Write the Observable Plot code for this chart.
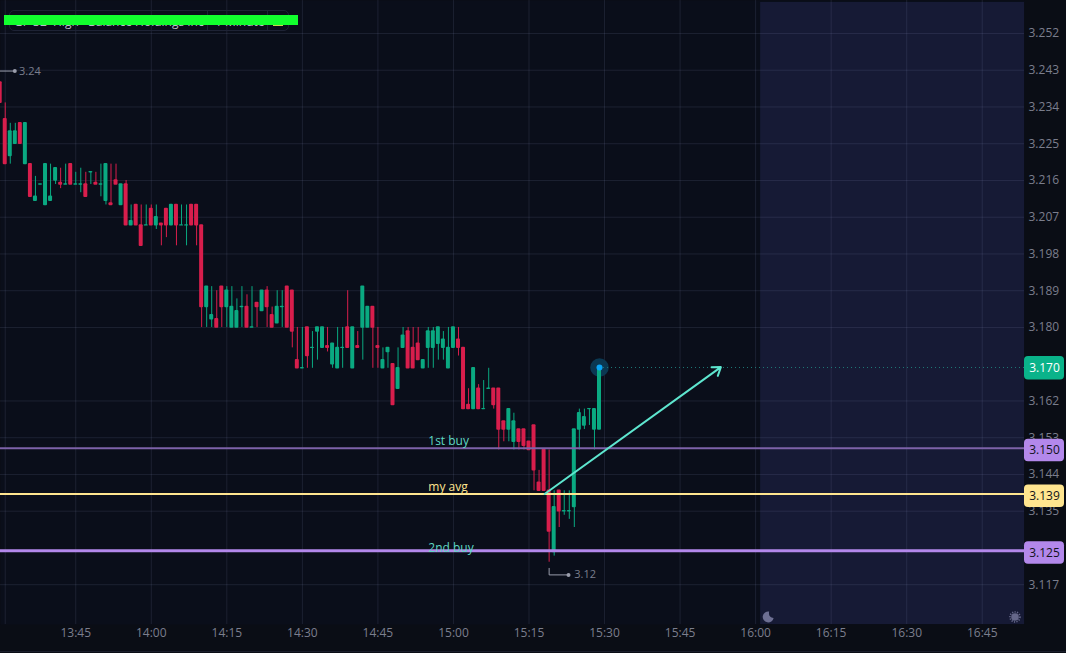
<!DOCTYPE html>
<html><head><meta charset="utf-8">
<script src="https://cdn.jsdelivr.net/npm/d3@7"></script>
<script src="https://cdn.jsdelivr.net/npm/@observablehq/plot@0.6"></script>
<style>
html,body{margin:0;padding:0;background:#0a0d15;overflow:hidden}
#wrap{position:relative;width:1066px;height:653px;font-family:"Open Sans",sans-serif}
#wrap svg{display:block}
#legend{position:absolute;left:9px;top:10px;width:280px;height:21px;box-sizing:border-box;border:1px solid #1e2335;border-radius:5px;color:#b9bcc8;font-size:12px;line-height:19px;white-space:nowrap;overflow:hidden}
#legend span{position:absolute;top:1px}
#legend i{position:absolute;top:0;bottom:0;width:1px;background:#1e2335}
#legend b{position:absolute;top:8px;left:263px;width:10px;height:7px;background:#c9d64a}
#redact{position:absolute;left:4px;top:15px;width:294px;height:10px;background:#12ff2e}
#bottomLine{position:absolute;left:0;top:651px;width:1066px;height:1px;background:#1a1e2b}
</style></head><body>
<div id="wrap"></div>
<script>
// Minutes after 13:30 for each one-minute candle are the array index.
const opens = [3.24,3.231,3.222,3.225,3.23,3.22,3.22,3.211,3.215,3.21,3.211,3.216,3.2154,3.215,3.22,3.215,3.215,3.215,3.218,3.2154,
3.215,3.211,3.2104,3.216,3.21,3.215,3.205,3.21,3.205,3.205,3.209,3.205,3.2054,3.209,3.205,3.21,3.205,3.205,3.21,3.21,
3.205,3.185,3.182,3.182,3.19,3.185,3.18,3.18,3.185,3.185,3.18,3.186,3.184,3.189,3.183,3.181,3.185,3.19,3.189,3.172,
3.17,3.18,3.175,3.179,3.175,3.1754,3.171,3.17,3.175,3.18,3.17,3.1754,3.18,3.18,3.185,3.1754,3.17,3.174,3.171,3.165,
3.175,3.179,3.175,3.176,3.17,3.175,3.175,3.176,3.175,3.17,3.175,3.177,3.175,3.161,3.16,3.165,3.16,3.165,3.165,3.165,
3.157,3.155,3.152,3.155,3.155,3.152,3.156,3.142,3.15,3.14,3.125,3.14,3.135,3.135,3.136,3.155,3.156,3.16,3.155,3.155];
const highs = [3.24,3.235,3.23,3.23,3.23,3.23,3.22,3.217,3.215,3.22,3.22,3.219,3.219,3.22,3.22,3.218,3.219,3.218,3.218,3.218,
3.22,3.22,3.22,3.22,3.215,3.216,3.21,3.21,3.21,3.21,3.21,3.21,3.2054,3.209,3.21,3.21,3.21,3.21,3.21,3.21,
3.205,3.19,3.19,3.189,3.19,3.19,3.19,3.187,3.19,3.188,3.19,3.186,3.189,3.19,3.185,3.189,3.189,3.19,3.189,3.18,
3.18,3.18,3.179,3.18,3.18,3.18,3.176,3.18,3.18,3.189,3.18,3.179,3.19,3.185,3.185,3.18,3.175,3.175,3.171,3.175,
3.18,3.18,3.18,3.18,3.172,3.18,3.18,3.18,3.179,3.18,3.18,3.18,3.175,3.165,3.17,3.166,3.167,3.17,3.165,3.165,
3.157,3.16,3.159,3.155,3.155,3.152,3.156,3.145,3.15,3.15,3.14,3.14,3.14,3.14,3.155,3.16,3.16,3.16,3.16,3.17];
const lows = [3.235,3.22,3.22,3.225,3.225,3.22,3.212,3.211,3.215,3.21,3.211,3.215,3.214,3.215,3.215,3.215,3.213,3.212,3.215,3.215,
3.212,3.21,3.21,3.215,3.21,3.205,3.205,3.205,3.2,3.205,3.205,3.204,3.2,3.202,3.205,3.2,3.205,3.2,3.205,3.2,
3.18,3.18,3.18,3.18,3.18,3.18,3.18,3.18,3.18,3.18,3.18,3.18,3.184,3.18,3.18,3.181,3.18,3.18,3.175,3.17,
3.17,3.17,3.17,3.172,3.175,3.174,3.17,3.17,3.17,3.175,3.17,3.175,3.172,3.18,3.17,3.17,3.17,3.17,3.161,3.165,
3.175,3.17,3.17,3.172,3.17,3.17,3.17,3.172,3.172,3.17,3.175,3.173,3.16,3.16,3.16,3.16,3.16,3.165,3.16,3.15,
3.152,3.152,3.15,3.15,3.15,3.15,3.14,3.14,3.14,3.1225,3.124,3.131,3.134,3.133,3.131,3.15,3.155,3.156,3.15,3.155];
const closes = [3.235,3.22,3.228,3.228,3.225,3.23,3.212,3.212,3.215,3.22,3.212,3.219,3.215,3.215,3.215,3.215,3.215,3.212,3.218,3.215,
3.215,3.22,3.21,3.215,3.215,3.205,3.206,3.205,3.2,3.205,3.205,3.207,3.205,3.205,3.21,3.205,3.205,3.205,3.205,3.205,
3.185,3.19,3.183,3.18,3.185,3.189,3.185,3.184,3.185,3.18,3.18,3.185,3.189,3.185,3.18,3.185,3.185,3.18,3.179,3.17,
3.17,3.173,3.175,3.18,3.18,3.175,3.176,3.175,3.175,3.175,3.18,3.175,3.19,3.185,3.18,3.175,3.172,3.175,3.161,3.17,
3.178,3.17,3.17,3.172,3.172,3.179,3.179,3.18,3.177,3.175,3.18,3.175,3.16,3.16,3.17,3.16,3.16,3.165,3.161,3.155,
3.155,3.16,3.157,3.152,3.151,3.15,3.145,3.14,3.14,3.13,3.136,3.135,3.135,3.135,3.155,3.159,3.158,3.16,3.16,3.17];

const yTicks = [3.252,3.243,3.234,3.225,3.216,3.207,3.198,3.189,3.180,3.162,3.153,3.144,3.135,3.117];
const xTicks = [15,30,45,60,75,90,105,120,135,150,165,180,195];
const xTickLabels = ["13:45","14:00","14:15","14:30","14:45","15:00","15:15","15:30","15:45","16:00","16:15","16:30","16:45"];
const xGrid = [1,...xTicks];

const levelValues = [3.1504,3.1392,3.1253];
const levelLabels = ["3.150","3.139","3.125"];
const levelNames  = ["1st buy","my avg","2nd buy"];
const levelNameY  = [3.1521,3.1408,3.1259];
const levelColors = ["#7d62a9","#ffe58f","#b388eb"];
const levelWidths = [2,2,3];
const badgeColors = ["#b388eb","#ffe58f","#b388eb"];
const nameColors  = ["#5fd8c4","#ffe58f","#5fd8c4"];

const lastMinute = 119, lastPrice = 3.1702, lastLabel = "3.170";
const arrowPath = {x1:108.1, y1:3.1392, x2:143.1, y2:3.1703};
const highNote = {x:[-2,2.9], y:3.2428, label:"3.24", lx:3.75};
const lowNote  = {path:[[109,3.121],[109,3.1194],[112.85,3.1194]], label:"3.12", lx:114};
const sessionStart = 151;
const moonMinute = 152.5, sunMinute = 201.5, iconPrice = 3.1091;

const xDomain = [0.06,203.39];
const yDomain = [3.10725,3.26008];

const candles = opens.map((o,i)=>({m:i,o,h:highs[i],l:lows[i],c:closes[i]}));
const up = d => d.c >= d.o;
const GREEN = "#0aa981", RED = "#d81e4c", AXIS = "#7b7e8d";
const levels = levelValues.map((v,i)=>({v,label:levelLabels[i],name:levelNames[i],ny:levelNameY[i],color:levelColors[i],w:levelWidths[i],badge:badgeColors[i],nameColor:nameColors[i]}));
const xEnd = xDomain[1];

// Crescent drawn as a custom Plot.dot symbol
const rad = a => a*Math.PI/180;
const moonSymbol = {draw(ctx,size){
  const R = Math.sqrt(size/Math.PI);
  ctx.moveTo(R*Math.cos(rad(10)),R*Math.sin(rad(10)));
  ctx.arc(0,0,R,rad(10),rad(280),false);
  ctx.quadraticCurveTo(-0.05*R,0.05*R,R*Math.cos(rad(10)),R*Math.sin(rad(10)));
  ctx.closePath();
}};

const chart = Plot.plot({
  width:1066,height:653,marginLeft:0,marginRight:42,marginTop:0,marginBottom:29,
  style:{background:"#0a0d15",fontFamily:"'Open Sans',sans-serif",fontSize:"12px"},
  x:{domain:xDomain,range:[0,1024],label:null},
  y:{domain:yDomain,range:[624,0],label:null},
  marks:[
    Plot.frame({fill:"#0a0e1a",stroke:null}),
    Plot.rect([0],{x1:sessionStart,x2:xEnd,y1:yDomain[0],y2:3.2596,fill:"#161a35"}),
    Plot.ruleY(yTicks,{stroke:"#9aa3d0",strokeOpacity:.13,strokeWidth:1,x1:xDomain[0],x2:xEnd}),
    Plot.ruleX(xGrid,{stroke:"#9aa3d0",strokeOpacity:.13,strokeWidth:1,y1:yDomain[0],y2:yDomain[1]}),
    Plot.axisY(yTicks,{anchor:"right",tickSize:0,tickPadding:4,label:null,fill:AXIS,fontSize:12,tickFormat:d3.format(".3f")}),
    Plot.axisX(xTicks,{anchor:"bottom",tickSize:0,tickPadding:4,label:null,fill:AXIS,fontSize:12,tickFormat:d=>xTickLabels[xTicks.indexOf(d)]}),
    Plot.dot([0],{x:lastMinute,y:lastPrice,r:9.3,fill:"#0b3852",stroke:null}),
    Plot.ruleX(candles,{x:"m",y1:"l",y2:"h",stroke:d=>up(d)?GREEN:RED,strokeWidth:1}),
    Plot.rect(candles,{x1:"m",x2:"m",y1:"o",y2:"c",fill:d=>up(d)?GREEN:RED,insetLeft:-2,insetRight:-2,insetTop:-.7,insetBottom:-.7,rx:1}),
    Plot.ruleY(levels,{y:"v",x1:xDomain[0],x2:xEnd,stroke:"color",strokeWidth:"w"}),
    Plot.text(levels,{x:85,y:"ny",text:"name",fill:"nameColor",textAnchor:"start",fontSize:12}),
    Plot.ruleY([lastPrice],{x1:lastMinute,x2:xEnd,stroke:"#1f7a78",strokeWidth:1,strokeDasharray:"1,3"}),
    Plot.arrow([arrowPath],{x1:"x1",y1:"y1",x2:"x2",y2:"y2",stroke:"#5ee6cf",strokeWidth:2,headLength:7,headAngle:70,bend:0}),
    Plot.dot([0],{x:lastMinute,y:lastPrice,r:3,fill:"#0aa5f5",stroke:null}),
    Plot.line([[highNote.x[0],highNote.y],[highNote.x[1],highNote.y]],{stroke:"#9a9dab",strokeWidth:1}),
    Plot.dot([0],{x:highNote.x[1],y:highNote.y,r:2,fill:"#9a9dab",stroke:null}),
    Plot.text([0],{x:highNote.lx,y:highNote.y,text:[highNote.label],fill:AXIS,textAnchor:"start",fontSize:11}),
    Plot.line(lowNote.path,{stroke:"#9a9dab",strokeWidth:1}),
    Plot.dot([lowNote.path[2]],{x:"0",y:"1",r:2,fill:"#9a9dab",stroke:null}),
    Plot.text([0],{x:lowNote.lx,y:lowNote.path[2][1],text:[lowNote.label],fill:AXIS,textAnchor:"start",fontSize:11}),
    Plot.rect([{v:lastPrice}],{x1:xEnd,x2:xEnd,y1:"v",y2:"v",fill:"#0ab38a",insetLeft:0,insetRight:-40,insetTop:-11,insetBottom:-12.5,rx:4}),
    Plot.text([0],{x:xEnd,y:lastPrice,text:[lastLabel],fill:"#fff",dx:20,dy:.5,fontSize:12}),
    Plot.rect(levels,{x1:xEnd,x2:xEnd,y1:"v",y2:"v",fill:"badge",insetLeft:0,insetRight:-40,insetTop:-9,insetBottom:-13.5,rx:4}),
    Plot.text(levels,{x:xEnd,y:"v",text:"label",fill:"#12131a",dx:20,dy:2,fontSize:12}),
    Plot.dot([0],{x:moonMinute,y:iconPrice,r:5.5,fill:"#6d6f93",stroke:null,symbol:moonSymbol}),
    Plot.dot([0],{x:sunMinute,y:iconPrice,r:3.8,fill:"#65678a",stroke:null}),
    Plot.dot([0],{x:sunMinute,y:iconPrice,r:5,fill:"none",stroke:"#65678a",strokeWidth:1.6,strokeDasharray:"1.2,1.3"})
  ]
});
const wrap = document.getElementById("wrap");
wrap.appendChild(chart);
const legendParts = [["GP 32",14],["High",53],["Balance Holdings Inc",88],["1 Minute",215]];
const legendDividers = [207,267];
const lg = document.createElement("div"); lg.id="legend";
legendParts.forEach(([t,l])=>{const s=document.createElement("span");s.textContent=t;s.style.left=(l-10)+"px";lg.appendChild(s);});
legendDividers.forEach(l=>{const d=document.createElement("i");d.style.left=(l-10)+"px";lg.appendChild(d);});
lg.appendChild(document.createElement("b"));
wrap.appendChild(lg);
const r = document.createElement("div"); r.id="redact"; wrap.appendChild(r);
const b = document.createElement("div"); b.id="bottomLine"; wrap.appendChild(b);
</script>
</body></html>
